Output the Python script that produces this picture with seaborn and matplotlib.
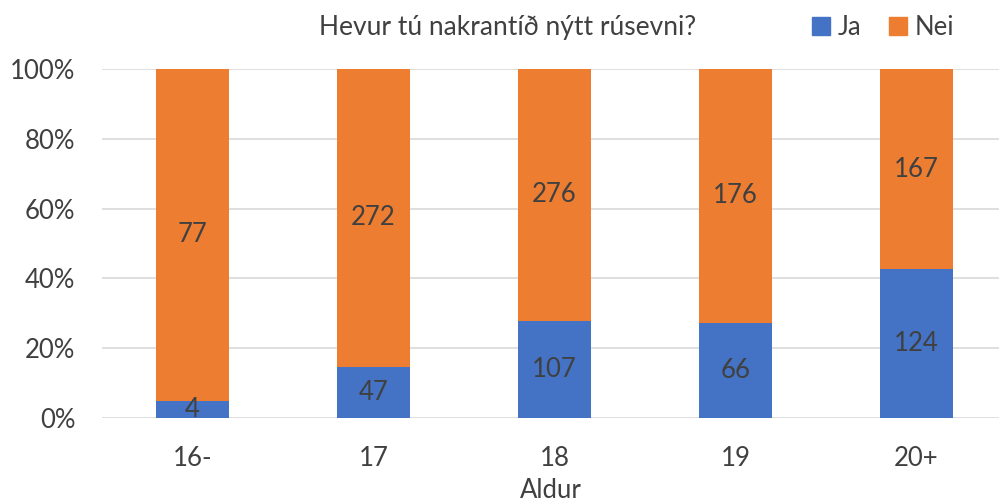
import seaborn as sns
import matplotlib.pyplot as plt
import matplotlib.patches as mpatches
import pandas as pd
import numpy as np

ages = ["16-", "17", "18", "19", "20+"]
ja = [4, 47, 107, 66, 124]
nei = [77, 272, 276, 176, 167]

blue = "#4472C4"
orange = "#ED7D31"
txt = "#404040"

sns.set_style("white")
plt.rcParams['font.family'] = ['Lato', 'DejaVu Sans']

total = np.array(ja) + np.array(nei)
pct_ja = np.array(ja) / total * 100
df = pd.DataFrame({"Aldur": ages, "Ja": pct_ja, "Nei": 100 - pct_ja, "Total": 100.0})

fig = plt.figure(figsize=(9.99, 5.04), dpi=100)
ax = fig.add_axes([0.102, 0.1706, 0.898, 0.6925])

sns.barplot(data=df, x="Aldur", y="Total", color=orange, width=0.4,
            saturation=1, linewidth=0, ax=ax, zorder=2)
sns.barplot(data=df, x="Aldur", y="Ja", color=blue, width=0.4,
            saturation=1, linewidth=0, ax=ax, zorder=3)

for i in range(len(ages)):
    ax.text(i, df["Ja"][i] / 2, str(ja[i]), ha="center", va="center",
            fontsize=18.5, color=txt, zorder=4)
    ax.text(i, df["Ja"][i] + df["Nei"][i] / 2, str(nei[i]), ha="center",
            va="center", fontsize=18.5, color=txt, zorder=4)

ax.set_xlim(-0.5, 4.456)
ax.set_ylim(0, 100)
ax.set_yticks(range(0, 101, 20))
ax.set_yticklabels([f"{v}%" for v in range(0, 101, 20)])
ax.yaxis.grid(True, color="#D9D9D9", linewidth=1.2, zorder=0)
ax.set_axisbelow(True)
for s in ax.spines.values():
    s.set_visible(False)
ax.tick_params(length=0, labelsize=18.5, labelcolor=txt)
ax.tick_params(axis="x", pad=20)
ax.tick_params(axis="y", pad=19)
ax.set_ylabel("")
ax.set_xlabel("Aldur", fontsize=18.5, color=txt, labelpad=5)

fig.text(0.508, 0.945, "Hevur tú nakrantíð nýtt rúsevni?", ha="center",
         va="center", fontsize=19, color=txt)

handles = [mpatches.Patch(color=blue, label="Ja"),
           mpatches.Patch(color=orange, label="Nei")]
fig.legend(handles=handles, loc="center", bbox_to_anchor=(0.884, 0.945),
           ncol=2, frameon=False, fontsize=18.5, labelcolor=txt,
           handlelength=0.7, handleheight=0.7, handletextpad=0.3,
           columnspacing=1.1)

fig.savefig("out.png", dpi=100)
